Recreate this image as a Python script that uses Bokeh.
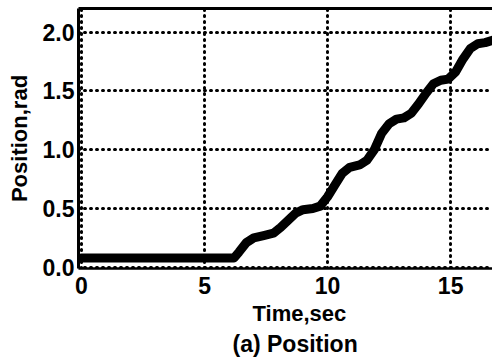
from bokeh.plotting import figure
from bokeh.models import LinearAxis, FixedTicker, PrintfTickFormatter, Range1d, Title
from bokeh.embed import file_html
from bokeh.resources import INLINE

# Data
time_sec = [0.0, 6.2, 6.4, 6.7, 7.0, 7.4, 7.8, 8.1, 8.4, 8.7, 9.0, 9.4, 9.7,
            10.0, 10.3, 10.6, 10.9, 11.3, 11.6, 11.9, 12.2, 12.5, 12.8, 13.1,
            13.4, 13.7, 14.0, 14.3, 14.6, 14.9, 15.2, 15.5, 15.8, 16.1, 16.4, 16.7]
position_rad = [0.08, 0.08, 0.13, 0.21, 0.25, 0.27, 0.29, 0.34, 0.40, 0.46, 0.49, 0.50, 0.52,
                0.60, 0.70, 0.80, 0.85, 0.87, 0.91, 1.00, 1.14, 1.22, 1.26, 1.27,
                1.31, 1.39, 1.48, 1.56, 1.59, 1.60, 1.66, 1.77, 1.86, 1.90, 1.91, 1.93]
x_ticks = [0, 5, 10, 15]
y_ticks = [0.0, 0.5, 1.0, 1.5, 2.0]

FONT = "Liberation Sans"

p = figure(width=492, height=357, output_backend="svg", toolbar_location=None,
           x_range=Range1d(-0.12, 16.7), y_range=Range1d(-0.01, 2.2),
           min_border_left=78, min_border_right=0, min_border_top=8, min_border_bottom=88)
p.outline_line_color = None
p.background_fill_color = "white"
p.border_fill_color = "white"

p.line(time_sec, position_rad, line_color="black", line_width=9, line_cap="round", line_join="round")

xa = p.xaxis[0]
xa.ticker = FixedTicker(ticks=x_ticks)
ya = p.yaxis[0]
ya.ticker = FixedTicker(ticks=y_ticks)
ya.formatter = PrintfTickFormatter(format="%.1f")
ya.axis_label = "Position,rad"

for ax in (xa, ya):
    ax.major_tick_out = 0
    ax.major_tick_in = 0
    ax.minor_tick_out = 0
    ax.minor_tick_in = 0
    ax.axis_line_color = "black"
    ax.major_label_text_font = FONT
    ax.major_label_text_font_style = "bold"
    ax.major_label_text_font_size = "23px"
    ax.major_label_text_color = "black"
    ax.axis_label_text_font = FONT
    ax.axis_label_text_font_style = "bold"
    ax.axis_label_text_font_size = "22px"
    ax.axis_label_text_color = "black"
xa.axis_line_width = 2.5
ya.axis_line_width = 3
xa.major_label_standoff = 8
ya.major_label_standoff = 4
ya.axis_label_standoff = 8

top = LinearAxis(ticker=FixedTicker(ticks=[]), major_label_text_font_size="0px",
                 major_tick_out=0, major_tick_in=0, minor_tick_out=0, minor_tick_in=0,
                 major_label_standoff=0, axis_line_width=3, axis_line_color="black")
p.add_layout(top, "above")

for g, t in ((p.xgrid[0], x_ticks), (p.ygrid[0], y_ticks)):
    g.ticker = FixedTicker(ticks=t)
    g.grid_line_color = "black"
    g.grid_line_width = 3
    g.grid_line_dash = "1 5"
    g.grid_line_cap = "round"
    g.grid_line_alpha = 1.0

p.add_layout(Title(text="Time,sec", align="left", text_font=FONT, text_font_style="bold",
                   text_font_size="22px", text_color="black", offset=174, standoff=4), "below")
p.add_layout(Title(text="(a) Position", align="left", text_font=FONT, text_font_style="bold",
                   text_font_size="23px", text_color="black", offset=154, standoff=2), "below")

open("out.html", "w").write(file_html(p, INLINE))
